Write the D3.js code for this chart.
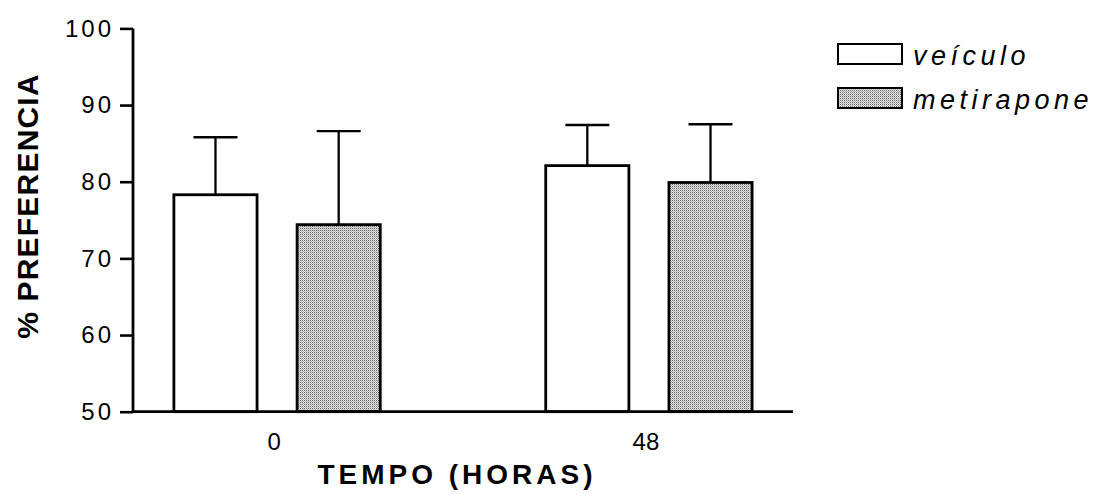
<!DOCTYPE html>
<html>
<head>
<meta charset="utf-8">
<script src="https://cdn.jsdelivr.net/npm/d3@7"></script>
<style>
  html, body { margin: 0; padding: 0; background: #fff; }
  svg { display: block; }
  text { font-family: "Liberation Sans", Arial, sans-serif; fill: #000; }
</style>
</head>
<body>
<svg id="chart" width="1097" height="494"></svg>
<script>
// ---- data ----
const categories = ["0", "48"];
const seriesNames = ["veículo", "metirapone"];
const veiculoMeans = [78.3, 82.1];
const veiculoSEM = [7.5, 5.3];
const metiraponeMeans = [74.4, 79.9];
const metiraponeSEM = [12.2, 7.6];
const yTicks = [50, 60, 70, 80, 90, 100];
const yDomain = [50, 100];
const yTitle = "% PREFERENCIA";
const xTitle = "TEMPO (HORAS)";

const table = [];
categories.forEach((c, i) => {
  table.push({cat: c, series: seriesNames[0], mean: veiculoMeans[i], sem: veiculoSEM[i]});
  table.push({cat: c, series: seriesNames[1], mean: metiraponeMeans[i], sem: metiraponeSEM[i]});
});

// ---- layout ----
const svg = d3.select("#chart");
const plot = {left: 133, right: 793, top: 28.4, bottom: 411.7};

// pattern fill
const defs = svg.append("defs");
const pat = defs.append("pattern").attr("id", "dots")
  .attr("width", 2).attr("height", 2).attr("patternUnits", "userSpaceOnUse");
pat.append("rect").attr("width", 2).attr("height", 2).attr("fill", "#e2e2e2");
pat.append("rect").attr("width", 1).attr("height", 1).attr("fill", "#6a6a6a");
pat.append("rect").attr("x", 1).attr("y", 1).attr("width", 1).attr("height", 1).attr("fill", "#b4b4b4");

const fills = {"veículo": "#ffffff", "metirapone": "url(#dots)"};

const x0 = d3.scaleBand().domain(categories)
  .range([plot.left, plot.right]).paddingInner(0.445).paddingOuter(0.11);
const x1 = d3.scaleBand().domain(seriesNames)
  .range([0, x0.bandwidth()]).paddingInner(0.325).paddingOuter(0);
const y = d3.scaleLinear().domain(yDomain).range([plot.bottom, plot.top]);

// bars
const bars = svg.append("g");
bars.selectAll("rect").data(table).join("rect")
  .attr("x", d => x0(d.cat) + x1(d.series))
  .attr("y", d => y(d.mean))
  .attr("width", x1.bandwidth())
  .attr("height", d => y(yDomain[0]) - y(d.mean))
  .attr("fill", d => fills[d.series])
  .attr("stroke", "#000").attr("stroke-width", 2.8);

// error bars (upper only)
const capW = 44;
const err = svg.append("g").attr("stroke", "#000").attr("stroke-width", 2.3);
table.forEach(d => {
  const cx = x0(d.cat) + x1(d.series) + x1.bandwidth() / 2;
  err.append("line").attr("x1", cx).attr("x2", cx)
    .attr("y1", y(d.mean)).attr("y2", y(d.mean + d.sem));
  err.append("line").attr("x1", cx - capW / 2).attr("x2", cx + capW / 2)
    .attr("y1", y(d.mean + d.sem)).attr("y2", y(d.mean + d.sem));
});

// y axis
const yAxis = d3.axisLeft(y).tickValues(yTicks).tickSize(13).tickPadding(9).tickSizeOuter(0);
const gy = svg.append("g").attr("transform", `translate(${plot.left},0)`).call(yAxis);
gy.select(".domain").attr("stroke-width", 2.8).attr("d", `M0,${plot.top}V${plot.bottom}`);
gy.selectAll(".tick line").attr("stroke-width", 2.6);
gy.selectAll(".tick text").attr("font-size", 24).attr("letter-spacing", "3px")
  .attr("font-family", "'Liberation Sans', Arial, sans-serif").attr("dx", 3);

// x axis
const xAxis = d3.axisBottom(x0).tickSize(0).tickPadding(21).tickSizeOuter(0);
const gx = svg.append("g").attr("transform", `translate(0,${plot.bottom})`).call(xAxis);
gx.select(".domain").attr("stroke-width", 2.8).attr("d", `M${plot.left},0H${plot.right}`);
gx.selectAll(".tick text").attr("font-size", 24)
  .attr("font-family", "'Liberation Sans', Arial, sans-serif").attr("dx", -3);

// axis titles
svg.append("text")
  .attr("transform", `translate(38,${(plot.top + plot.bottom) / 2 - 14}) rotate(-90)`)
  .attr("text-anchor", "middle").attr("font-weight", "bold")
  .attr("font-size", 30).attr("letter-spacing", "1.2px")
  .text(yTitle);

svg.append("text")
  .attr("x", (plot.left + plot.right) / 2 - 6).attr("y", 484)
  .attr("text-anchor", "middle").attr("font-weight", "bold")
  .attr("font-size", 28).attr("letter-spacing", "4px")
  .text(xTitle);

// legend
const legend = svg.append("g").attr("transform", "translate(838,44)");
seriesNames.forEach((s, i) => {
  const g = legend.append("g").attr("transform", `translate(0,${i * 44})`);
  g.append("rect").attr("width", 64).attr("height", 20)
    .attr("fill", fills[s]).attr("stroke", "#000").attr("stroke-width", 2);
  g.append("text").attr("x", 75).attr("y", 21)
    .attr("font-size", 27).attr("font-style", "italic").attr("letter-spacing", "4.5px")
    .text(s);
});
</script>
</body>
</html>
